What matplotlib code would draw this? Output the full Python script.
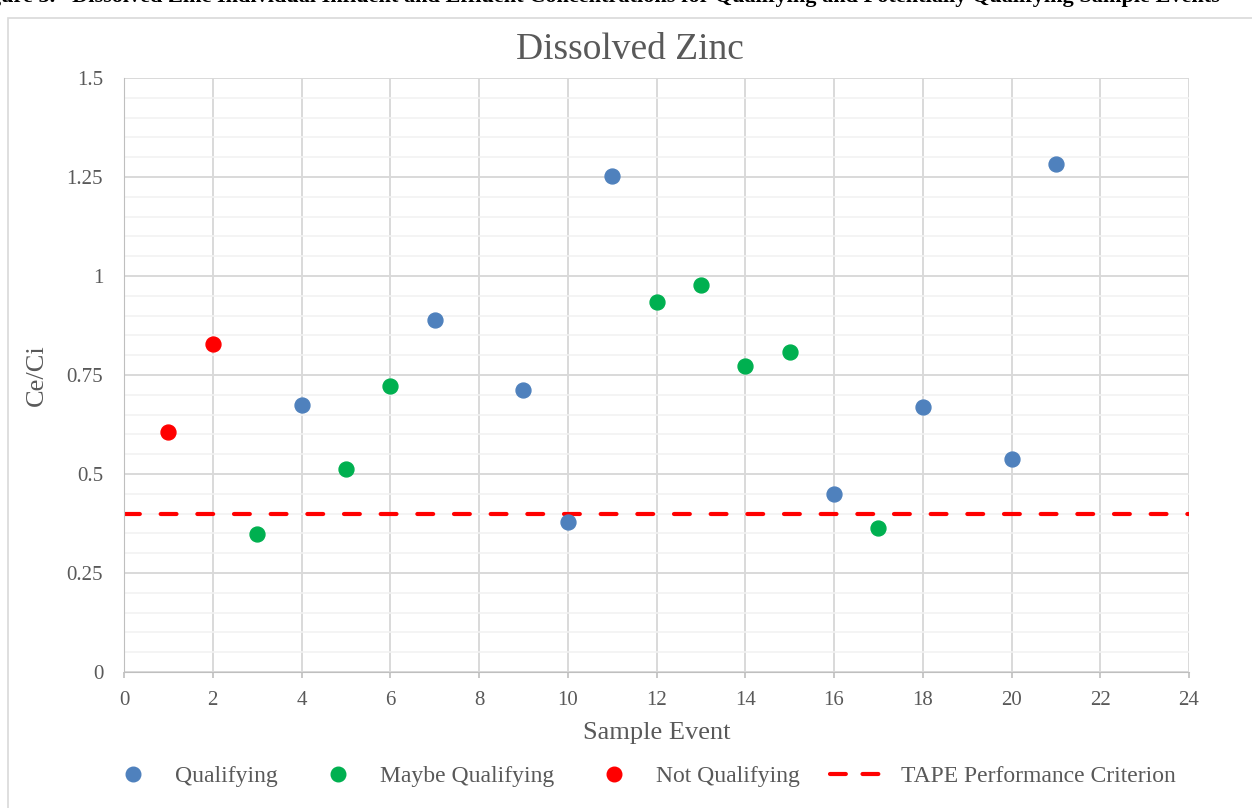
import numpy as np
import matplotlib
matplotlib.use("Agg")
import matplotlib.pyplot as plt
from matplotlib.patches import Rectangle
from matplotlib.lines import Line2D

plt.rcParams['font.family'] = ['Liberation Serif', 'DejaVu Serif']

# data
qual_x = [4, 7, 9, 10, 11, 16, 18, 20, 21]
qual_y = [0.674, 0.889, 0.712, 0.379, 1.253, 0.449, 0.669, 0.538, 1.283]
maybe_x = [3, 5, 6, 12, 13, 14, 15, 17]
maybe_y = [0.348, 0.513, 0.722, 0.934, 0.977, 0.773, 0.808, 0.364]
notq_x = [1, 2]
notq_y = [0.605, 0.828]
criterion = 0.4

x_ticks = list(range(0, 25, 2))
y_ticks = [0, 0.25, 0.5, 0.75, 1, 1.25, 1.5]
y_tick_labels = ["0", "0.25", "0.5", "0.75", "1", "1.25", "1.5"]

c_blue = "#4F81BD"
c_green = "#00B050"
c_red = "#FF0000"
c_text = "#595959"

fig = plt.figure(figsize=(12.52, 8.08), dpi=100)

# chart frame
fig.patches.append(Rectangle((8/1252, -0.01), 1.0, 1 - 18/808 + 0.01, transform=fig.transFigure,
                             fill=False, edgecolor="#D9D9D9", linewidth=1.2, zorder=0))

# caption of the document, mostly cut off at the top
fig.text(1220/1252, 1 - 2/808, "Figure 5.   Dissolved Zinc Individual Influent and Effluent Concentrations for Qualifying and Potentially Qualifying Sample Events",
         ha="right", va="baseline", fontsize=16, fontweight="bold", color="black")

ax = fig.add_axes([124/1252, 1 - 672/808, (1189-124)/1252, (672-78)/808])

ax.set_xlim(0, 24)
ax.set_ylim(0, 1.5)
ax.set_xticks(x_ticks)
ax.set_xticklabels([str(t) for t in x_ticks])
ax.set_yticks(y_ticks)
ax.set_yticklabels(y_tick_labels)
ax.set_yticks(np.arange(0, 1.5001, 0.05), minor=True)
ax.tick_params(which="both", length=0, labelsize=15, labelcolor=c_text)
ax.tick_params(axis="y", pad=15)
ax.tick_params(axis="x", which="major", length=4, width=1.2, color="#BFBFBF", pad=10)

ax.grid(True, which="major", color="#D9D9D9", linewidth=1.4)
ax.grid(True, which="minor", axis="y", color="#F2F2F2", linewidth=1.2)
ax.set_axisbelow(True)
for s in ax.spines.values():
    s.set_visible(False)
ax.spines["left"].set_visible(True)
ax.spines["left"].set_color("#BFBFBF")
ax.spines["bottom"].set_visible(True)
ax.spines["bottom"].set_color("#BFBFBF")

ms = 115
ax.scatter(qual_x, qual_y, s=ms, color=c_blue, zorder=3, clip_on=False)
ax.scatter(maybe_x, maybe_y, s=ms, color=c_green, zorder=3, clip_on=False)
ax.scatter(notq_x, notq_y, s=ms, color=c_red, zorder=3, clip_on=False)
ax.axhline(criterion, color=c_red, linewidth=3, dashes=(3.8, 5.0), dash_capstyle="round", zorder=2)

fig.text(630/1252, 1 - 50/808, "Dissolved Zinc", ha="center", va="center", fontsize=27, color=c_text)
ax.set_xlabel("Sample Event", fontsize=19, color=c_text, labelpad=8)
fig.text(37/1252, 1 - 375/808, "Ce/Ci", rotation=90, ha="center", va="center", fontsize=19, color=c_text)

handles = [
    Line2D([], [], linestyle="none", marker="o", markersize=10.5, color=c_blue),
    Line2D([], [], linestyle="none", marker="o", markersize=10.5, color=c_green),
    Line2D([], [], linestyle="none", marker="o", markersize=10.5, color=c_red),
    Line2D([], [], color=c_red, linewidth=3, dashes=(3.8, 4.0), dash_capstyle="round"),
]
labels = ["Qualifying", "Maybe Qualifying", "Not Qualifying", "TAPE Performance Criterion"]
leg = fig.legend(handles, labels, loc="center", bbox_to_anchor=(640/1252, 1 - 776/808), ncol=4,
                 frameon=False, fontsize=17, handlelength=2.46, columnspacing=1.3, handletextpad=0.55,
                 borderpad=0, borderaxespad=0)
for t in leg.get_texts():
    t.set_color(c_text)

fig.savefig("out.png", dpi=100)
